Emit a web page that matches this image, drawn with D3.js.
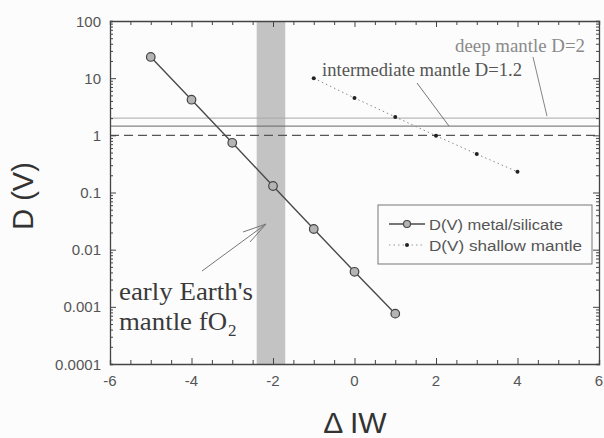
<!DOCTYPE html>
<html>
<head>
<meta charset="utf-8">
<script src="https://cdn.jsdelivr.net/npm/d3@7"></script>
<style>
  body { margin: 0; background: #fcfcfc; }
  svg { display: block; }
</style>
</head>
<body>
<div id="chart"></div>
<script>
// data
let deltaIW = [-5, -4, -3, -2, -1, 0, 1];
let dMetalSilicate = [23.5, 4.2, 0.74, 0.13, 0.023, 0.0041, 0.00076];
let deltaIWShallow = [-1, 0, 1, 2, 3, 4];
let dShallowMantle = [10, 4.5, 2.1, 0.98, 0.47, 0.23];
let refLevels = [2, 1.45, 1];          // deep, intermediate, D=1
let earlyEarthBand = [-2.4, -1.7];
let xTicks = [-6, -4, -2, 0, 2, 4, 6];
let yTicks = [0.0001, 0.001, 0.01, 0.1, 1, 10, 100];
let yTickLabels = ["0.0001", "0.001", "0.01", "0.1", "1", "10", "100"];
let legendLabels = ['D(V) metal/silicate', 'D(V) shallow mantle'];

let width = 604, height = 438;
let margin = {left: 110, right: 5, top: 21, bottom: 74};

let x = d3.scaleLinear().domain([-6, 6]).range([margin.left, width - margin.right]);
let y = d3.scaleLog().domain([0.0001, 100]).range([height - margin.bottom, margin.top]);

let sans = '"Liberation Sans", Arial, sans-serif';
let serif = '"Liberation Serif", "Times New Roman", serif';

let svg = d3.select('#chart').append('svg')
    .attr('width', width)
    .attr('height', height);

svg.append('rect').attr('width', width).attr('height', height).attr('fill', '#fcfcfc');

// shaded band for early Earth fO2
svg.append('rect')
    .attr('x', x(earlyEarthBand[0]))
    .attr('y', margin.top)
    .attr('width', x(earlyEarthBand[1]) - x(earlyEarthBand[0]))
    .attr('height', y(0.0001) - margin.top)
    .attr('fill', '#c3c3c3');

// reference lines
let refStyles = [
    {stroke: '#a8a8a8', dash: null, w: 1},
    {stroke: '#666', dash: null, w: 1},
    {stroke: '#555', dash: '9,5', w: 1.2}
];
refLevels.forEach(function(v, i){
    svg.append('line')
        .attr('x1', x(-6)).attr('x2', x(6))
        .attr('y1', y(v)).attr('y2', y(v))
        .attr('stroke', refStyles[i].stroke)
        .attr('stroke-width', refStyles[i].w)
        .attr('stroke-dasharray', refStyles[i].dash);
});

// axes - ticks inward on all four sides
let minorX = d3.range(-6, 6.01, 0.5);
let minorY = [];
yTicks.slice(0, -1).forEach(function(t){
    for (let k = 2; k <= 9; k++) minorY.push(t * k);
});

let axisColor = '#444';
function addXAxis(yPos, dir){
    let a = svg.append('g').attr('transform', 'translate(0,' + yPos + ')');
    a.call((dir > 0 ? d3.axisBottom(x) : d3.axisTop(x)).tickValues(minorX).tickSize(-4).tickFormat(''));
    a.call(g => g.selectAll('.tick line').filter(d => xTicks.includes(d)).attr('y2', dir > 0 ? -6 : 6));
    a.select('.domain').attr('stroke', axisColor).attr('stroke-width', 1.3);
    a.selectAll('.tick line').attr('stroke', axisColor);
}
function addYAxis(xPos, dir){
    let a = svg.append('g').attr('transform', 'translate(' + xPos + ',0)');
    a.call((dir < 0 ? d3.axisLeft(y) : d3.axisRight(y)).tickValues(minorY.concat(yTicks)).tickSize(-3).tickFormat(''));
    a.call(g => g.selectAll('.tick line').filter(d => yTicks.includes(d)).attr('x2', dir < 0 ? 6 : -6));
    a.select('.domain').attr('stroke', axisColor).attr('stroke-width', 1.3);
    a.selectAll('.tick line').attr('stroke', axisColor);
}
addXAxis(y(0.0001), 1);
addXAxis(y(100), -1);
addYAxis(x(-6), -1);
addYAxis(x(6), 1);

// tick labels
svg.append('g').selectAll('text').data(xTicks).enter().append('text')
    .attr('x', d => x(d)).attr('y', y(0.0001) + 22)
    .attr('text-anchor', 'middle')
    .attr('font-family', sans)
    .attr('font-size', 15).attr('fill', '#555')
    .text(d => d);
svg.append('g').selectAll('text').data(yTicks).enter().append('text')
    .attr('x', x(-6) - 9).attr('y', d => y(d) + 5.5)
    .attr('text-anchor', 'end')
    .attr('font-family', sans)
    .attr('font-size', 15).attr('fill', '#555')
    .text((d, i) => yTickLabels[i]);

// axis titles
svg.append('text')
    .attr('transform', 'translate(33,196) rotate(-90)')
    .attr('text-anchor', 'middle')
    .attr('font-family', sans)
    .attr('font-size', 29).attr('fill', '#333')
    .text('D (V)');
svg.append('text')
    .attr('x', 355).attr('y', 433)
    .attr('text-anchor', 'middle')
    .attr('font-family', sans)
    .attr('font-size', 30).attr('fill', '#333')
    .text('\u0394 IW');

// shallow mantle series
let line = d3.line().x(d => x(d[0])).y(d => y(d[1]));
let shallow = d3.zip(deltaIWShallow, dShallowMantle);
svg.append('path').datum(shallow)
    .attr('d', line).attr('fill', 'none')
    .attr('stroke', '#888').attr('stroke-width', 1)
    .attr('stroke-dasharray', '1.5,3');
svg.append('g').selectAll('circle').data(shallow).enter().append('circle')
    .attr('cx', d => x(d[0])).attr('cy', d => y(d[1]))
    .attr('r', 2).attr('fill', '#222');

// metal/silicate series
let metal = d3.zip(deltaIW, dMetalSilicate);
svg.append('path').datum(metal)
    .attr('d', line).attr('fill', 'none')
    .attr('stroke', '#4a4a4a').attr('stroke-width', 1.4);
svg.append('g').selectAll('circle').data(metal).enter().append('circle')
    .attr('cx', d => x(d[0])).attr('cy', d => y(d[1]))
    .attr('r', 4.3).attr('fill', '#b4b4b4')
    .attr('stroke', '#444').attr('stroke-width', 1.2);

// annotations (the original serif lettering is a bit wide, so fix the run lengths)
svg.append('text')
    .attr('x', 455).attr('y', 52)
    .attr('font-family', serif).attr('font-size', 18).attr('fill', '#8a8a8a')
    .attr('textLength', 130).attr('lengthAdjust', 'spacingAndGlyphs')
    .text('deep mantle D=2');
svg.append('line')
    .attr('x1', 533).attr('y1', 57).attr('x2', 547).attr('y2', y(2) - 2)
    .attr('stroke', '#777').attr('stroke-width', 0.9);

svg.append('text')
    .attr('x', 322).attr('y', 76)
    .attr('font-family', serif).attr('font-size', 18).attr('fill', '#555')
    .attr('textLength', 200).attr('lengthAdjust', 'spacingAndGlyphs')
    .text('intermediate mantle D=1.2');
svg.append('line')
    .attr('x1', 417).attr('y1', 83).attr('x2', 449).attr('y2', y(1.45))
    .attr('stroke', '#666').attr('stroke-width', 0.9);

svg.append('text')
    .attr('x', 119).attr('y', 300)
    .attr('font-family', serif).attr('font-size', 26).attr('fill', '#3a3a3a')
    .attr('textLength', 134).attr('lengthAdjust', 'spacingAndGlyphs')
    .text("early Earth's");
let early2 = svg.append('text')
    .attr('font-family', serif).attr('font-size', 26).attr('fill', '#3a3a3a');
early2.append('tspan').attr('x', 119).attr('y', 330)
    .attr('textLength', 108).attr('lengthAdjust', 'spacingAndGlyphs')
    .text('mantle fO');
early2.append('tspan').attr('x', 228).attr('y', 336).attr('font-size', 17).text('2');

// arrow to shaded band
svg.append('line')
    .attr('x1', 202).attr('y1', 271).attr('x2', 266).attr('y2', 224)
    .attr('stroke', '#777').attr('stroke-width', 1);
svg.append('path')
    .attr('d', 'M 243 232 L 266 224 L 250 242')
    .attr('fill', 'none').attr('stroke', '#777').attr('stroke-width', 1);

// legend
let lg = svg.append('g');
lg.append('rect')
    .attr('x', 378).attr('y', 205).attr('width', 214).attr('height', 59)
    .attr('fill', '#fcfcfc').attr('stroke', '#777').attr('stroke-width', 1);
lg.append('line').attr('x1', 389).attr('x2', 425).attr('y1', 224).attr('y2', 224)
    .attr('stroke', '#4a4a4a').attr('stroke-width', 1.4);
lg.append('circle').attr('cx', 407).attr('cy', 224).attr('r', 3.5)
    .attr('fill', '#b4b4b4').attr('stroke', '#444').attr('stroke-width', 1.1);
lg.append('line').attr('x1', 389).attr('x2', 425).attr('y1', 245).attr('y2', 245)
    .attr('stroke', '#999').attr('stroke-width', 1).attr('stroke-dasharray', '1.5,3');
lg.append('circle').attr('cx', 407).attr('cy', 245).attr('r', 2).attr('fill', '#222');
let legendLen = [134, 153];
lg.selectAll('text.lab').data(legendLabels).enter().append('text')
    .attr('x', 429).attr('y', (d, i) => 230 + i * 21)
    .attr('font-family', sans)
    .attr('font-size', 15.5).attr('fill', '#555')
    .attr('textLength', (d, i) => legendLen[i]).attr('lengthAdjust', 'spacingAndGlyphs')
    .text(d => d);
</script>
</body>
</html>
